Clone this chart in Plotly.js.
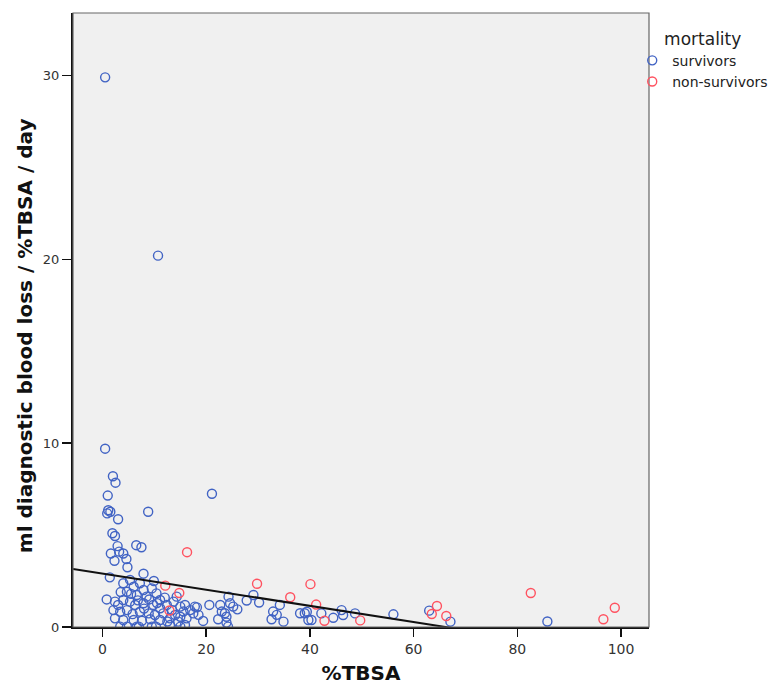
<!DOCTYPE html>
<html>
<head>
<meta charset="utf-8">
<script src="https://cdn.plot.ly/plotly-3.0.1.min.js"></script>
<style>html,body{margin:0;padding:0;background:#fff;}#chart{width:771px;height:686px;}</style>
</head>
<body>
<div id="chart"></div>
<script>
// survivors
const survX = [0.5,10.7,0.5,2.0,2.5,1.0,1.1,1.5,0.9,3.0,8.8,21.1,1.9,2.4,6.5,7.5,2.9,1.6,3.2,4.0,2.3,4.6,4.8,1.4,7.9,9.9,
  4.0,5.3,6.0,7.2,7.9,4.7,6.6,8.5,9.5,10.4,11.1,4.0,5.3,0.8,2.4,6.3,7.9,9.8,11.1,12.4,13.7,14.3,13.4,15.0,15.9,16.9,17.5,18.2,
  2.1,3.4,4.7,7.2,8.9,10.1,11.7,14.0,15.0,16.2,2.4,4.0,6.0,7.6,9.2,11.1,13.0,14.6,15.9,3.4,4.7,6.6,9.5,13.0,15.0,
  5.5,3.5,8.0,10.5,12.0,5.8,9.0,6.8,12.5,3.0,7.0,10.3,
  17.8,15.6,18.5,19.4,20.6,22.7,24.3,24.6,25.2,26.0,23.0,23.6,22.3,23.9,23.9,24.2,27.8,29.1,30.2,32.9,34.2,33.6,32.6,34.9,
  38.1,39.0,39.4,39.7,40.3,42.2,44.5,46.1,46.4,48.7,56.1,63.0,67.1,85.8];
const survY = [29.9,20.2,9.7,8.2,7.85,7.15,6.35,6.27,6.18,5.86,6.27,7.25,5.1,4.95,4.45,4.34,4.4,4.0,4.1,4.0,3.6,3.7,3.25,2.7,2.9,2.5,
  2.38,2.56,2.19,2.38,2.01,1.92,1.74,1.65,2.1,1.83,1.47,1.47,1.38,1.5,1.38,1.2,1.29,1.2,1.02,1.2,1.38,1.65,0.92,1.11,1.2,0.92,0.74,1.07,
  0.92,0.83,0.92,0.83,0.74,0.65,0.74,0.65,0.56,0.47,0.47,0.38,0.38,0.34,0.42,0.38,0.47,0.29,0.11,0.02,0.02,0.02,0.02,0.11,0.02,
  1.8,1.9,1.0,1.3,1.6,0.7,1.5,1.45,0.3,1.2,0.02,0.02,
  1.11,0.84,0.66,0.33,1.2,1.2,1.65,1.29,1.11,0.96,0.84,0.75,0.42,0.24,0.56,0.02,1.44,1.74,1.33,0.84,1.2,0.66,0.42,0.29,
  0.75,0.75,0.83,0.38,0.38,0.74,0.5,0.92,0.65,0.74,0.69,0.89,0.29,0.3];
// non-survivors
const nonX = [12.1,14.8,12.9,16.3,29.8,40.1,36.2,41.2,42.8,49.7,63.5,64.5,66.3,82.6,96.6,98.8];
const nonY = [2.25,1.85,0.9,4.07,2.35,2.33,1.62,1.22,0.34,0.36,0.71,1.14,0.6,1.85,0.42,1.05];
// linear fit line (all cases)
const fitIntercept = 2.91;
const fitSlope = -0.044;
const xRange = [-5.7, 105.4];
const fitY = xRange.map(x => fitIntercept + fitSlope * x);

const font = "DejaVu Sans, Liberation Sans, sans-serif";
const traces = [
  {x: survX, y: survY, type: 'scatter', mode: 'markers', name: 'survivors',
   marker: {symbol: 'circle-open', size: 9, color: '#4163c4', line: {width: 1.4}}},
  {x: nonX, y: nonY, type: 'scatter', mode: 'markers', name: 'non-survivors',
   marker: {symbol: 'circle-open', size: 9, color: '#ff5260', line: {width: 1.4}}},
  {x: xRange, y: fitY, type: 'scatter', mode: 'lines', showlegend: false, hoverinfo: 'skip',
   line: {color: '#111', width: 2}}
];
const layout = {
  width: 771, height: 686,
  margin: {l: 73, r: 122, t: 13, b: 59, autoexpand: false},
  paper_bgcolor: '#ffffff', plot_bgcolor: '#f0f0f0',
  font: {family: font, color: '#222'},
  showlegend: true,
  legend: {xref: 'container', yref: 'container', x: 0.82, xanchor: 'left', y: 0.967, yanchor: 'top',
           bgcolor: 'rgba(0,0,0,0)',
           font: {size: 14, family: font, color: '#222'}, tracegroupgap: 0,
           title: {text: 'mortality', side: 'top center', font: {size: 17, family: font, color: '#222'}}},
  xaxis: {range: xRange, tickvals: [0,20,40,60,80,100], showgrid: false, zeroline: false,
          showline: true, linecolor: '#111', linewidth: 2, ticks: 'outside', ticklen: 8, tickwidth: 1.5, tickcolor: '#111',
          tickfont: {size: 14, family: font, color: '#333'},
          title: {text: '<b>%TBSA</b>', font: {size: 20, family: font, color: '#111'}, standoff: 10}},
  yaxis: {range: [0, 33.4], tickvals: [0,10,20,30], showgrid: false, zeroline: false,
          showline: true, linecolor: '#111', linewidth: 2, ticks: 'outside', ticklen: 9, tickwidth: 1.5, tickcolor: '#111',
          tickfont: {size: 13, family: font, color: '#333'}},
  annotations: [{text: '<b>ml diagnostic blood loss / %TBSA / day</b>', textangle: -90,
                 xref: 'paper', yref: 'paper', x: -0.083, y: 0.474, xanchor: 'center', yanchor: 'middle',
                 showarrow: false, font: {size: 20, family: font, color: '#111'}}],
  shapes: [{type: 'rect', xref: 'paper', yref: 'paper', x0: 0, x1: 1, y0: 0, y1: 1,
            line: {color: '#666', width: 1.2}, fillcolor: 'rgba(0,0,0,0)', layer: 'above'}]
};
Plotly.newPlot('chart', traces, layout, {displayModeBar: false, staticPlot: true});
</script>
</body>
</html>
